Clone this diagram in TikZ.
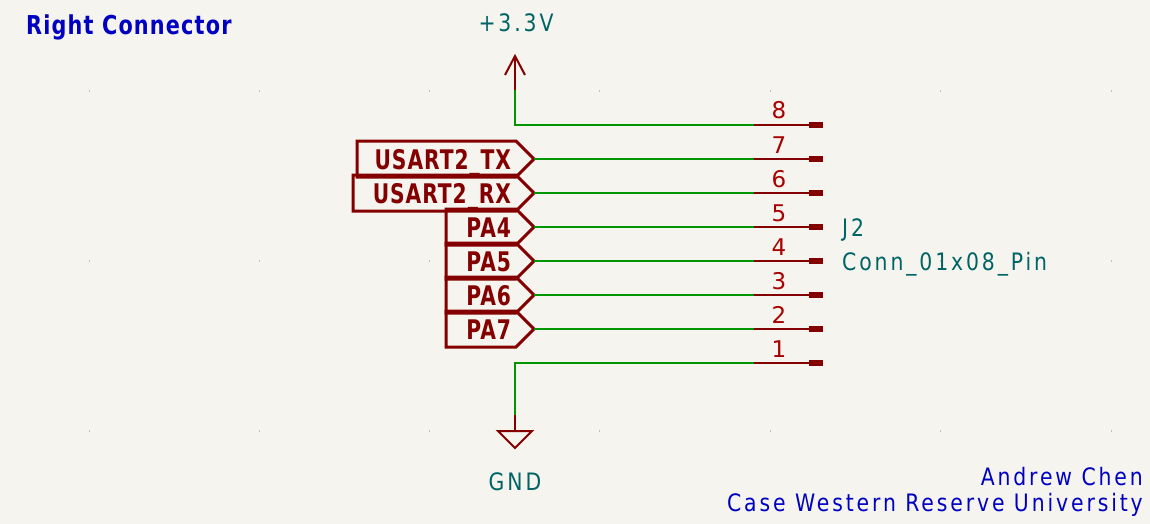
\documentclass[tikz,border=0pt]{standalone}
\usepackage{fontspec}
\usetikzlibrary{shapes.symbols}
\setmainfont{DejaVu Sans}
\newfontfamily\notefont[FakeStretch=0.85,LetterSpace=12]{DejaVu Sans}
\newfontfamily\notebold[FakeStretch=0.8,LetterSpace=4.5]{DejaVu Sans Bold}
\newfontfamily\labelfont[FakeStretch=0.75,LetterSpace=3.5]{DejaVu Sans Bold}
\definecolor{bgc}{RGB}{245,244,239}
\definecolor{wirec}{RGB}{0,150,0}
\definecolor{symc}{RGB}{132,0,0}
\definecolor{numc}{RGB}{169,0,0}
\definecolor{refc}{RGB}{0,100,100}
\definecolor{notec}{RGB}{0,0,194}
\tikzset{
  wire/.style={draw=wirec,line width=2pt},
  symline/.style={draw=symc,line width=2pt},
  hlabel/.style={shape=signal,signal to=east,signal from=nowhere,signal pointer angle=90,draw=symc,line width=3pt,
    minimum height=36pt,inner ysep=0pt,inner xsep=5pt,outer sep=0pt,align=right,anchor=east,text=symc,
    text height=20pt,text depth=0pt,
    font=\labelfont\fontsize{27}{27}\selectfont},
  pad/.style={shape=rectangle,fill=symc,minimum width=14pt,minimum height=6pt,inner sep=0pt,outer sep=0pt,anchor=west},
  pinnum/.style={text=numc,font=\fontsize{23}{23}\selectfont,inner sep=0pt,anchor=base},
  reft/.style={text=refc,font=\notefont\fontsize{24}{24}\selectfont,inner sep=0pt,anchor=base west},
  powt/.style={text=refc,font=\notefont\fontsize{24}{24}\selectfont,inner sep=0pt,anchor=base},
  note/.style={text=notec,font=\notefont\fontsize{24}{24}\selectfont,inner sep=0pt,anchor=base east},
  griddot/.style={draw=black!25,line width=.7pt}
}
\begin{document}
\begin{tikzpicture}[x=1pt,y=-1pt]
\fill[bgc] (0,0) rectangle (1150,524);
\useasboundingbox (0,0) rectangle (1150,524);
\foreach \x in {89,259,429,599,770,940,1111}
  \foreach \y in {91,261,431}
    \draw[griddot] (\x,\y-1) -- (\x,\y+1);
\node[text=notec,font=\notebold\fontsize{26}{26}\selectfont,inner sep=0pt,anchor=base west] (title) at (26,35) {Right Connector};
\node[powt] (vcc) at (516,32) {+3.3V};
\node[powt] (gnd) at (515,490.5) {GND};
\node[reft] (j2) at (842,236) {J2};
\node[reft] (conn) at (842,270) {Conn\_01x08\_Pin};
\node[note] (a1) at (1143,485) {Andrew Chen};
\node[note] (a2) at (1143,511.5) {Case Western Reserve University};
% hierarchical labels
\node[hlabel,text width=149pt] (tx) at (534,159) {USART2\_TX};
\node[hlabel,text width=153pt] (rx) at (534,193) {USART2\_RX};
\node[hlabel,text width=60pt] (pa4) at (534,227) {PA4};
\node[hlabel,text width=60pt] (pa5) at (534,261) {PA5};
\node[hlabel,text width=60pt] (pa6) at (534,295) {PA6};
\node[hlabel,text width=60pt] (pa7) at (534,329) {PA7};
% pins
\foreach \n/\y in {8/125,7/159,6/193,5/227,4/261,3/295,2/329,1/363}{
  \coordinate (s\n) at (754,\y);
  \node[pad] (p\n) at (809,\y) {};
  \draw[symline] (s\n) -- (p\n.west);
  \node[pinnum] (num\n) at (779,\y-6) {\n};
}
\foreach \a/\n in {tx/7,rx/6,pa4/5,pa5/4,pa6/3,pa7/2}
  \draw[wire] (\a.east) -- (s\n);
% power symbols
\coordinate (vtip) at (515,56);
\coordinate (vbase) at (515,90);
\coordinate (gbase) at (515,415);
\coordinate (gtop) at (515,431);
\draw[wire] (s8) -| (vbase);
\draw[wire] (s1) -| (gbase);
\draw[symline] (vbase) -- (vtip);
\draw[symline,line join=miter] (505,75) -- (vtip) -- (525,75);
\draw[symline] (gbase) -- (gtop);
\draw[symline,line join=miter] (498,431) -- (532,431) -- (515,448) -- cycle;
\end{tikzpicture}
\end{document}
